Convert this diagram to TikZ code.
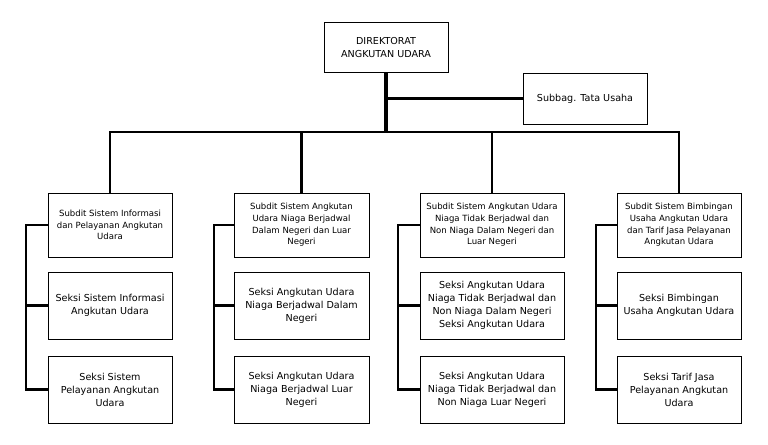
\documentclass[tikz,border=0pt]{standalone}
\usepackage{fontspec}
\setmainfont{DejaVu Sans}
\begin{document}
\begin{tikzpicture}[x=0.75pt,y=-0.75pt,
  box/.style={draw,line width=0.75pt,align=center,inner sep=1pt},
  subdit/.style={box,font=\fontsize{6.4}{8.8}\selectfont,minimum height=48pt},
  seksi/.style={box,font=\fontsize{7.2}{9.75}\selectfont,minimum height=50.25pt},
  link/.style={line width=2.2pt}]
\useasboundingbox (0,0) rectangle (768,444);
%top
\node[box,font=\fontsize{7.2}{9.75}\selectfont,minimum width=93pt,minimum height=37.5pt] (dir) at (386,47) {DIREKTORAT\\ANGKUTAN UDARA};
\node[box,font=\fontsize{7.2}{9.75}\selectfont,minimum width=93pt,minimum height=38.25pt] (subbag) at (585,98.5) {Subbag. Tata Usaha};
\coordinate (bar) at (386,132);
%a
\node[subdit,minimum width=93pt] (sa) at (110,225) {Subdit Sistem Informasi\\dan Pelayanan Angkutan\\Udara};
\node[seksi,minimum width=93pt] (ka1) at (110,305.5) {Seksi Sistem Informasi\\Angkutan Udara};
\node[seksi,minimum width=93pt] (ka2) at (110,389.5) {Seksi Sistem\\Pelayanan Angkutan\\Udara};
\coordinate (busa) at (26,389.5);
%b
\node[subdit,minimum width=101.25pt] (sb) at (301.5,225) {Subdit Sistem Angkutan\\Udara Niaga Berjadwal\\Dalam Negeri dan Luar\\Negeri};
\node[seksi,minimum width=101.25pt] (kb1) at (301.5,305.5) {Seksi Angkutan Udara\\Niaga Berjadwal Dalam\\Negeri};
\node[seksi,minimum width=101.25pt] (kb2) at (301.5,389.5) {Seksi Angkutan Udara\\Niaga Berjadwal Luar\\Negeri};
\coordinate (busb) at (214,389.5);
%c
\node[subdit,minimum width=108pt] (sc) at (492,225) {Subdit Sistem Angkutan Udara\\Niaga Tidak Berjadwal dan\\Non Niaga Dalam Negeri dan\\Luar Negeri};
\node[seksi,minimum width=108pt] (kc1) at (492,305.5) {Seksi Angkutan Udara\\Niaga Tidak Berjadwal dan\\Non Niaga Dalam Negeri\\Seksi Angkutan Udara};
\node[seksi,minimum width=108pt] (kc2) at (492,389.5) {Seksi Angkutan Udara\\Niaga Tidak Berjadwal dan\\Non Niaga Luar Negeri};
\coordinate (busc) at (398,389.5);
%d
\node[subdit,minimum width=93pt] (sd) at (679,225) {Subdit Sistem Bimbingan\\Usaha Angkutan Udara\\dan Tarif Jasa Pelayanan\\Angkutan Udara};
\node[seksi,minimum width=93pt] (kd1) at (679,305.5) {Seksi Bimbingan\\Usaha Angkutan Udara};
\node[seksi,minimum width=93pt] (kd2) at (679,389.5) {Seksi Tarif Jasa\\Pelayanan Angkutan\\Udara};
\coordinate (busd) at (596,389.5);
% lines
\draw[line width=3pt] (dir.south) -- (bar);
\draw[link] (subbag.west) -- (subbag.west -| dir.south);
\draw[link] (sa.north) |- (bar) -| (sd.north);
\draw[link] (sb.north) -- (sb.north |- bar);
\draw[link] (sc.north) -- (sc.north |- bar);
\foreach \c in {a,b,c,d}{
  \draw[link] (s\c.west) -| (bus\c) |- (k\c2.west);
  \draw[link] (k\c1.west) -- (k\c1.west -| bus\c);
}
\end{tikzpicture}
\end{document}
